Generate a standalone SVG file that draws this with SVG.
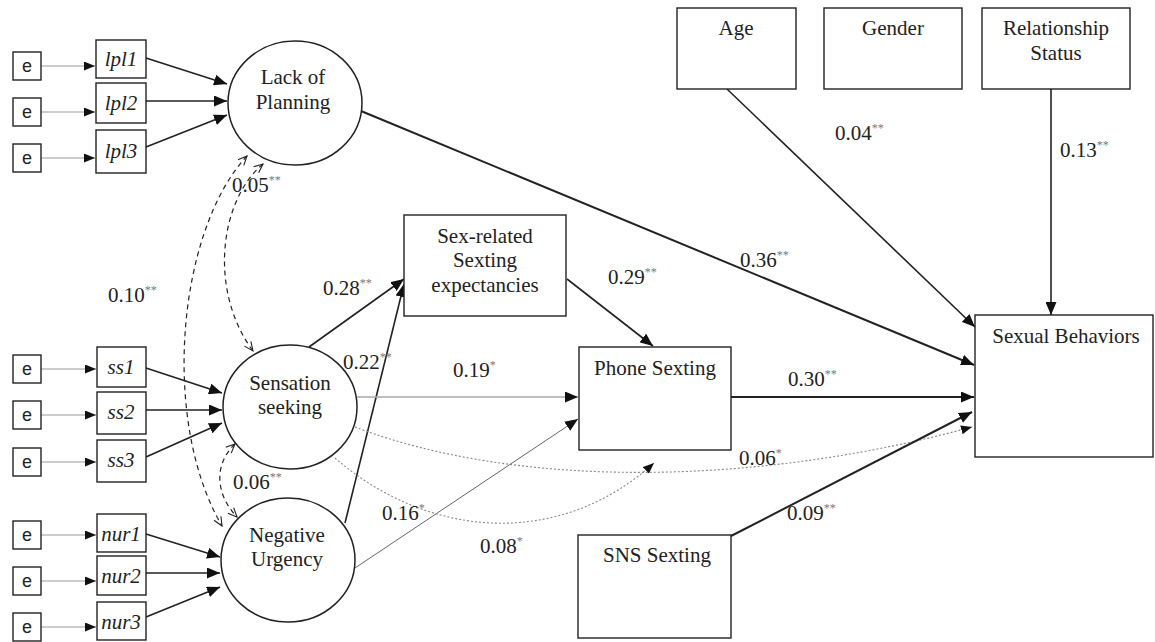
<svg xmlns="http://www.w3.org/2000/svg" width="1155" height="642" viewBox="0 0 1155 642">
<style>
.box{fill:#fff;stroke:#222;stroke-width:1.4}
.lat{fill:#fff;stroke:#222;stroke-width:1.5}
.t{font-family:"Liberation Serif","Times New Roman",serif;font-size:21px;fill:#222;text-anchor:middle}
.ti{font-family:"Liberation Serif","Times New Roman",serif;font-size:21px;font-style:italic;fill:#222;text-anchor:middle}
.te{font-family:"Liberation Sans",Arial,sans-serif;font-size:18px;fill:#222;text-anchor:middle}
.lb{font-family:"Liberation Serif","Times New Roman",serif;font-size:21px;fill:#222}
.sup{font-size:12px;fill:#777}
.ln{fill:none;stroke:#222;stroke-width:1.6}
.thk{fill:none;stroke:#222;stroke-width:2}
.eg{fill:none;stroke:#999;stroke-width:1}
.gr{fill:none;stroke:#aaa;stroke-width:1.6}
.gt{fill:none;stroke:#666;stroke-width:1}
.dot{fill:none;stroke:#888;stroke-width:1.1;stroke-dasharray:2 2}
.dash{fill:none;stroke:#222;stroke-width:1.2;stroke-dasharray:5 4}
</style>
<defs>
<marker id="ah" markerUnits="userSpaceOnUse" markerWidth="13" markerHeight="11" refX="13" refY="5.5" orient="auto"><path d="M0,0 L13,5.5 L0,11 z" fill="#111"/></marker>
<marker id="ahs" markerUnits="userSpaceOnUse" markerWidth="11" markerHeight="9" refX="11" refY="4.5" orient="auto"><path d="M0,0 L11,4.5 L0,9 z" fill="#111"/></marker>
<marker id="oa" markerUnits="userSpaceOnUse" markerWidth="11" markerHeight="10" refX="10" refY="5" orient="auto-start-reverse"><path d="M1,1 L10,5 L1,9" fill="none" stroke="#222" stroke-width="1.1"/></marker>
</defs>

<g id="connectors">
<path class="eg" d="M41,66 H95" marker-end="url(#ahs)"/>
<path class="eg" d="M41,112 H95" marker-end="url(#ahs)"/>
<path class="eg" d="M41,158 H95" marker-end="url(#ahs)"/>
<path class="eg" d="M41,369 H96" marker-end="url(#ahs)"/>
<path class="eg" d="M41,415 H96" marker-end="url(#ahs)"/>
<path class="eg" d="M41,462 H96" marker-end="url(#ahs)"/>
<path class="eg" d="M41,535 H96" marker-end="url(#ahs)"/>
<path class="eg" d="M41,581 H96" marker-end="url(#ahs)"/>
<path class="eg" d="M41,627 H96" marker-end="url(#ahs)"/>
<path class="ln" d="M146,58 L227,84" marker-end="url(#ah)"/>
<path class="ln" d="M146,101 L227,101" marker-end="url(#ah)"/>
<path class="ln" d="M146,147 L227,115" marker-end="url(#ah)"/>
<path class="ln" d="M146,368 L222,393" marker-end="url(#ah)"/>
<path class="ln" d="M146,410 L222,410" marker-end="url(#ah)"/>
<path class="ln" d="M146,457 L222,423" marker-end="url(#ah)"/>
<path class="ln" d="M146,534 L220,557" marker-end="url(#ah)"/>
<path class="ln" d="M146,573 L220,573" marker-end="url(#ah)"/>
<path class="ln" d="M146,617 L220,587" marker-end="url(#ah)"/>
<path class="dash" d="M263,164 C220,200 208,290 253,351" marker-start="url(#oa)" marker-end="url(#oa)"/>
<path class="dash" d="M247,156 C178,230 160,420 222,526" marker-start="url(#oa)" marker-end="url(#oa)"/>
<path class="dash" d="M235,444 C213,465 216,495 237,517" marker-start="url(#oa)" marker-end="url(#oa)"/>
<path class="ln" d="M309,347 L404,279" marker-end="url(#ah)"/>
<path class="ln" d="M345,523 L404,284" marker-end="url(#ah)"/>
<path class="ln" d="M567,279 L653,346" marker-end="url(#ah)"/>
<path class="gr" d="M357,397 L578,397" marker-end="url(#ah)"/>
<path class="gt" d="M355,568 L578,419" marker-end="url(#ah)"/>
<path class="dot" d="M335,458 C430,540 560,548 654,463" marker-end="url(#ahs)"/>
<path class="dot" d="M355,427 C520,490 760,485 972,427" marker-end="url(#ahs)"/>
<path class="thk" d="M361,111 L974,365" marker-end="url(#ah)"/>
<path class="thk" d="M731,397 L974,397" marker-end="url(#ah)"/>
<path class="thk" d="M731,536 L972,412" marker-end="url(#ah)"/>
<path class="ln" d="M727,89 L975,327" marker-end="url(#ah)"/>
<path class="ln" d="M1051,89 L1051,315" marker-end="url(#ah)"/>
</g>

<g id="labels">
<text class="lb" x="232" y="192">0.05<tspan class="sup" dy="-8">**</tspan></text>
<text class="lb" x="108" y="302">0.10<tspan class="sup" dy="-8">**</tspan></text>
<text class="lb" x="233" y="489">0.06<tspan class="sup" dy="-8">**</tspan></text>
<text class="lb" x="323" y="295">0.28<tspan class="sup" dy="-8">**</tspan></text>
<text class="lb" x="343" y="369">0.22<tspan class="sup" dy="-8">**</tspan></text>
<text class="lb" x="453" y="377">0.19<tspan class="sup" dy="-8">*</tspan></text>
<text class="lb" x="382" y="520">0.16<tspan class="sup" dy="-8">*</tspan></text>
<text class="lb" x="480" y="553">0.08<tspan class="sup" dy="-8">*</tspan></text>
<text class="lb" x="608" y="284">0.29<tspan class="sup" dy="-8">**</tspan></text>
<text class="lb" x="740" y="267">0.36<tspan class="sup" dy="-8">**</tspan></text>
<text class="lb" x="788" y="386">0.30<tspan class="sup" dy="-8">**</tspan></text>
<text class="lb" x="739" y="465">0.06<tspan class="sup" dy="-8">*</tspan></text>
<text class="lb" x="787" y="520">0.09<tspan class="sup" dy="-8">**</tspan></text>
<text class="lb" x="835" y="140">0.04<tspan class="sup" dy="-8">**</tspan></text>
<text class="lb" x="1060" y="157">0.13<tspan class="sup" dy="-8">**</tspan></text>
</g>

<g id="e1"><rect class="box" x="13" y="52" width="28" height="28"/><text class="te" x="27" y="72">e</text></g>
<g id="e2"><rect class="box" x="13" y="98" width="28" height="28"/><text class="te" x="27" y="118">e</text></g>
<g id="e3"><rect class="box" x="13" y="144" width="28" height="28"/><text class="te" x="27" y="164">e</text></g>
<g id="e4"><rect class="box" x="13" y="355" width="28" height="28"/><text class="te" x="27" y="375">e</text></g>
<g id="e5"><rect class="box" x="13" y="401" width="28" height="28"/><text class="te" x="27" y="421">e</text></g>
<g id="e6"><rect class="box" x="13" y="448" width="28" height="28"/><text class="te" x="27" y="468">e</text></g>
<g id="e7"><rect class="box" x="13" y="521" width="28" height="28"/><text class="te" x="27" y="541">e</text></g>
<g id="e8"><rect class="box" x="13" y="567" width="28" height="28"/><text class="te" x="27" y="587">e</text></g>
<g id="e9"><rect class="box" x="13" y="613" width="28" height="28"/><text class="te" x="27" y="633">e</text></g>

<g id="lpl1"><rect class="box" x="96" y="40" width="50" height="38"/><text class="ti" x="121" y="66">lpl1</text></g>
<g id="lpl2"><rect class="box" x="96" y="83" width="50" height="40"/><text class="ti" x="121" y="110">lpl2</text></g>
<g id="lpl3"><rect class="box" x="96" y="130" width="50" height="43"/><text class="ti" x="121" y="158">lpl3</text></g>
<g id="ss1"><rect class="box" x="97" y="347" width="49" height="40"/><text class="ti" x="121" y="374">ss1</text></g>
<g id="ss2"><rect class="box" x="97" y="392" width="49" height="42"/><text class="ti" x="121" y="419">ss2</text></g>
<g id="ss3"><rect class="box" x="97" y="440" width="49" height="42"/><text class="ti" x="121" y="467">ss3</text></g>
<g id="nur1"><rect class="box" x="97" y="514" width="49" height="38"/><text class="ti" x="121" y="541">nur1</text></g>
<g id="nur2"><rect class="box" x="97" y="556" width="49" height="39"/><text class="ti" x="121" y="583">nur2</text></g>
<g id="nur3"><rect class="box" x="97" y="602" width="49" height="38"/><text class="ti" x="121" y="629">nur3</text></g>

<g id="lack-of-planning"><ellipse class="lat" cx="295" cy="103" rx="67" ry="62"/><text class="t" x="293" y="84">Lack of</text><text class="t" x="293" y="109">Planning</text></g>
<g id="sensation-seeking"><ellipse class="lat" cx="290" cy="407" rx="67" ry="62"/><text class="t" x="290" y="390">Sensation</text><text class="t" x="290" y="414">seeking</text></g>
<g id="negative-urgency"><ellipse class="lat" cx="288" cy="560" rx="67" ry="62"/><text class="t" x="287" y="542">Negative</text><text class="t" x="287" y="566">Urgency</text></g>

<g id="sex-related"><rect class="box" x="404" y="215" width="162" height="101"/><text class="t" x="485" y="243">Sex-related</text><text class="t" x="485" y="267">Sexting</text><text class="t" x="485" y="292">expectancies</text></g>
<g id="phone-sexting"><rect class="box" x="579" y="347" width="152" height="103"/><text class="t" x="655" y="375">Phone Sexting</text></g>
<g id="sns-sexting"><rect class="box" x="578" y="535" width="153" height="103"/><text class="t" x="657" y="562">SNS Sexting</text></g>
<g id="sexual-behaviors"><rect class="box" x="975" y="315" width="178" height="142"/><text class="t" x="1066" y="343">Sexual Behaviors</text></g>
<g id="age"><rect class="box" x="677" y="8" width="119" height="81"/><text class="t" x="736" y="35">Age</text></g>
<g id="gender"><rect class="box" x="824" y="8" width="138" height="81"/><text class="t" x="893" y="35">Gender</text></g>
<g id="relationship-status"><rect class="box" x="982" y="8" width="148" height="81"/><text class="t" x="1056" y="35">Relationship</text><text class="t" x="1056" y="60">Status</text></g>
</svg>
